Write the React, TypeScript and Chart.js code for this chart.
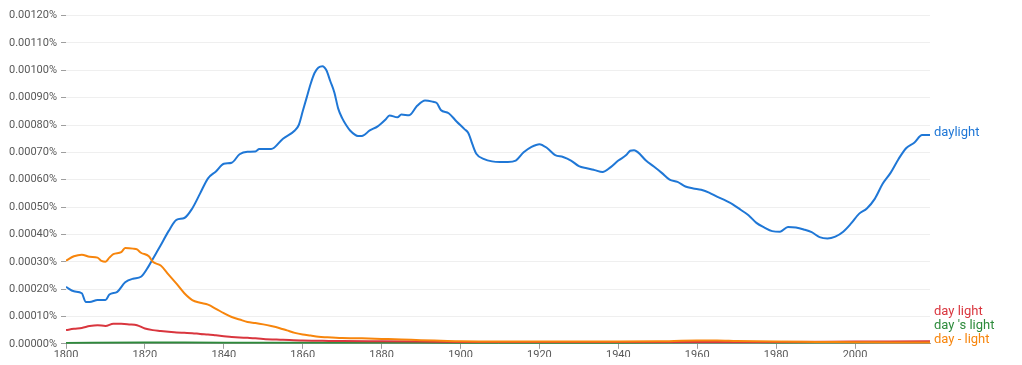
import React, { useEffect, useRef } from "react";
import { Chart, registerables } from "chart.js";

Chart.register(...registerables);

// values are in units of 0.00001 %
const daylightYears = [1800, 1802, 1804, 1805, 1806, 1808, 1810, 1811, 1813, 1815, 1817, 1819, 1821, 1822, 1824, 1826, 1828, 1830, 1832, 1834, 1836, 1838, 1840, 1842, 1844, 1846, 1848, 1849, 1852, 1855, 1858, 1859, 1860, 1861, 1862, 1863, 1864, 1865, 1866, 1867, 1868, 1869, 1870, 1871, 1872, 1874, 1875, 1877, 1879, 1881, 1882, 1884, 1885, 1887, 1889, 1891, 1893, 1894, 1895, 1897, 1899, 1901, 1902, 1903, 1904, 1906, 1908, 1910, 1912, 1914, 1916, 1918, 1920, 1922, 1924, 1926, 1928, 1930, 1932, 1934, 1936, 1938, 1940, 1942, 1943, 1944, 1945, 1947, 1949, 1951, 1953, 1955, 1957, 1959, 1961, 1963, 1965, 1967, 1969, 1971, 1973, 1975, 1977, 1979, 1981, 1983, 1985, 1987, 1989, 1991, 1993, 1995, 1997, 1999, 2001, 2003, 2005, 2007, 2009, 2011, 2013, 2015, 2017, 2019];
const daylightValues = [20.8, 19.2, 18.5, 15.3, 15.3, 16, 16, 18, 19, 22.5, 23.8, 24.5, 28.5, 31, 36, 41.2, 45.3, 46, 49.5, 55, 60.5, 63, 65.8, 66.2, 69.3, 70.2, 70.3, 71.2, 71.2, 75, 78, 80, 85, 90, 95, 99, 101, 101.5, 100, 96, 92, 86, 82.5, 80, 78, 76, 76, 78, 79.5, 82, 83.5, 82.8, 83.8, 83.6, 87, 89, 88.5, 88, 85.5, 84.3, 81.3, 78.5, 77, 73, 69.5, 67.5, 66.7, 66.5, 66.5, 67, 70, 72, 73, 71.5, 69, 68.3, 67, 65, 64.2, 63.5, 62.8, 64.5, 67, 69, 70.6, 70.8, 70, 67, 64.8, 62.5, 60, 59.2, 57.5, 56.8, 56.3, 55.3, 53.8, 52.5, 51, 49, 47, 44.2, 42.5, 41.2, 41, 42.7, 42.5, 41.8, 40.8, 39, 38.5, 39.2, 41, 44, 47.5, 49.5, 53, 58.5, 62.5, 67.5, 71.6, 73.5, 76.3, 76.3];

const dayLightYears = [1800, 1802, 1804, 1806, 1808, 1810, 1812, 1814, 1816, 1818, 1820, 1822, 1824, 1826, 1828, 1830, 1832, 1834, 1836, 1838, 1840, 1842, 1844, 1846, 1848, 1850, 1855, 1860, 1865, 1870, 1880, 1890, 1900, 1920, 1940, 1960, 1980, 2000, 2019];
const dayLightValues = [5.0, 5.5, 5.8, 6.5, 6.8, 6.5, 7.3, 7.3, 7.1, 6.8, 5.6, 5.0, 4.7, 4.4, 4.1, 4.0, 3.9, 3.6, 3.4, 3.1, 2.8, 2.5, 2.3, 2.2, 2.0, 1.8, 1.5, 1.2, 1.1, 1.0, 0.9, 0.8, 0.7, 0.7, 0.7, 0.7, 0.7, 0.8, 0.9];

const daysLightYears = [1800, 1820, 1840, 1860, 1880, 1900, 1920, 1940, 1960, 1970, 1980, 2000, 2019];
const daysLightValues = [0.3, 0.5, 0.4, 0.4, 0.4, 0.3, 0.3, 0.3, 0.5, 0.5, 0.4, 0.5, 0.6];

const dayDashLightYears = [1800, 1802, 1804, 1806, 1808, 1809, 1810, 1811, 1812, 1814, 1815, 1817, 1818, 1819, 1821, 1822, 1824, 1826, 1828, 1830, 1832, 1834, 1836, 1838, 1840, 1842, 1844, 1846, 1848, 1850, 1852, 1854, 1856, 1858, 1860, 1862, 1864, 1866, 1870, 1875, 1880, 1885, 1890, 1895, 1900, 1910, 1920, 1930, 1940, 1950, 1960, 1965, 1970, 1980, 1990, 2000, 2010, 2019];
const dayDashLightValues = [30.4, 32, 32.6, 31.8, 31.5, 30.3, 30, 31.5, 32.8, 33.5, 35, 34.8, 34.5, 33.3, 32, 30, 28.6, 25.3, 22, 18.5, 16, 15, 14.3, 12.8, 11.2, 9.8, 8.9, 8.0, 7.6, 7.1, 6.5, 5.8, 4.9, 4.0, 3.4, 3.0, 2.6, 2.4, 2.1, 2.0, 1.8, 1.6, 1.3, 1.1, 0.9, 0.8, 0.8, 0.8, 0.8, 0.9, 1.2, 1.2, 1.0, 0.8, 0.7, 0.6, 0.5, 0.5];

const seriesNames = ["daylight", "day light", "day 's light", "day - light"];
const seriesColors = ["#1f77d6", "#d9363e", "#2e8b3c", "#f7850c"];

const xTicks = [1800, 1820, 1840, 1860, 1880, 1900, 1920, 1940, 1960, 1980, 2000];
const yMax = 120;
const yStep = 10;

const FONT = "Roboto, 'Noto Sans', sans-serif";

const toPoints = (xs: number[], ys: number[]) => xs.map((x, i) => ({ x, y: ys[i] }));

const endLabels = {
  id: "endLabels",
  afterDatasetsDraw(chart: any) {
    const ctx = chart.ctx;
    const area = chart.chartArea;
    const items: { y: number; x: number; text: string; color: string; idx: number }[] = [];
    chart.data.datasets.forEach((ds: any, i: number) => {
      const meta = chart.getDatasetMeta(i);
      const pt = meta.data[meta.data.length - 1];
      items.push({ y: pt.y, x: pt.x, text: ds.label, color: ds.borderColor, idx: i });
    });
    items.sort((a, b) => b.y - a.y || b.idx - a.idx);
    let prev = Infinity;
    const gap = 14;
    items.forEach((it, k) => {
      let y = Math.min(it.y - 2, area.bottom - 4);
      if (k > 0) y = Math.min(y, prev - gap);
      it.y = y;
      prev = y;
    });
    ctx.save();
    ctx.font = `13px ${FONT}`;
    ctx.textBaseline = "middle";
    ctx.textAlign = "left";
    items.forEach((it) => {
      ctx.fillStyle = it.color;
      ctx.fillText(it.text, it.x + 4, it.y);
    });
    ctx.restore();
  },
};

export default function App() {
  const ref = useRef<HTMLCanvasElement | null>(null);
  useEffect(() => {
    if (!ref.current) return;
    const data = [
      toPoints(daylightYears, daylightValues),
      toPoints(dayLightYears, dayLightValues),
      toPoints(daysLightYears, daysLightValues),
      toPoints(dayDashLightYears, dayDashLightValues),
    ];
    const chart = new Chart(ref.current, {
      type: "line",
      data: {
        datasets: seriesNames.map((name, i) => ({
          label: name,
          data: data[i],
          borderColor: seriesColors[i],
          backgroundColor: seriesColors[i],
          borderWidth: 2,
          pointRadius: 0,
          cubicInterpolationMode: "monotone" as const,
          fill: false,
          order: i === 3 ? 0 : i === 0 ? 3 : i,
        })),
      },
      options: {
        animation: false,
        responsive: false,
        maintainAspectRatio: false,
        layout: { padding: { top: 3, right: 84, left: 0, bottom: 0 } },
        plugins: { legend: { display: false }, tooltip: { enabled: false } },
        scales: {
          x: {
            type: "linear",
            min: 1800,
            max: 2019,
            afterBuildTicks: (scale: any) => {
              scale.ticks = xTicks.map((v) => ({ value: v }));
            },
            ticks: {
              callback: (v: any) => String(v),
              font: { family: FONT, size: 11 },
              color: "#595959",
              padding: 0,
              maxRotation: 0,
              autoSkip: false,
            },
            grid: {
              drawOnChartArea: false,
              drawTicks: true,
              tickLength: 5,
              tickColor: "#9e9e9e",
            },
            border: { display: true, color: "#9e9e9e", width: 1 },
          },
          y: {
            min: 0,
            max: yMax,
            afterFit: (scale: any) => {
              scale.width = 58;
            },
            ticks: {
              stepSize: yStep,
              callback: (v: any) => (Number(v) * 1e-5).toFixed(5) + "%",
              font: { family: FONT, size: 11 },
              color: "#595959",
              padding: 4,
            },
            grid: {
              color: "#efefef",
              tickColor: "#9e9e9e",
              tickLength: 5,
            },
            border: { display: false },
          },
        },
      },
      plugins: [endLabels],
    });
    return () => chart.destroy();
  }, []);
  return (
    <div style={{ width: 1006, height: 349, position: "relative" }}>
      <canvas
        ref={ref}
        width={1006}
        height={357}
        style={{ display: "block", position: "absolute", left: 0, top: -3 }}
      />
    </div>
  );
}
